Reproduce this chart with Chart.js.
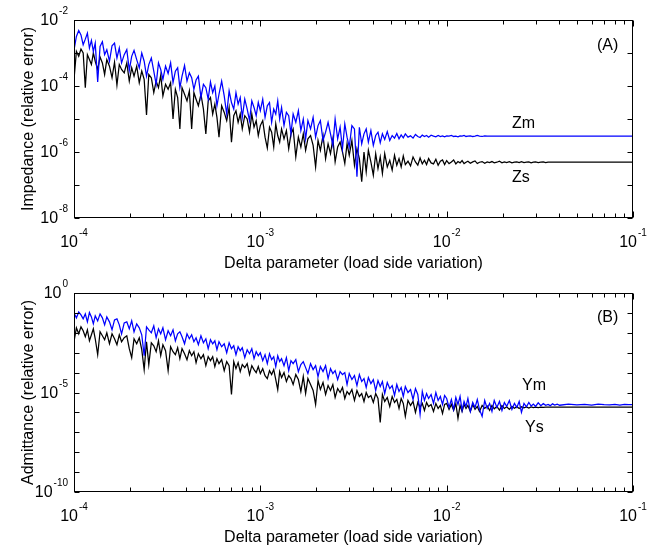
<!DOCTYPE html>
<html>
<head>
<meta charset="utf-8">
<script src="https://cdn.jsdelivr.net/npm/chart.js@4.4.1/dist/chart.umd.min.js"></script>
<style>
  html, body { margin: 0; padding: 0; background: #fff; }
  #wrap { position: relative; width: 664px; height: 551px; }
  .panel { position: absolute; left: 0; width: 664px; }
</style>
</head>
<body>
<div id="wrap">
  <div class="panel" style="top:0;height:276px"><canvas id="cTop" width="664" height="276"></canvas></div>
  <div class="panel" style="top:276px;height:275px"><canvas id="cBot" width="664" height="275"></canvas></div>
</div>
<script>
// delta sweep (shared by both panels)
const deltaGrid = [
  1.00e-4,1.03e-4,1.06e-4,1.09e-4,1.12e-4,1.15e-4,1.18e-4,1.21e-4,1.24e-4,1.27e-4,
  1.30e-4,1.34e-4,1.38e-4,1.42e-4,1.46e-4,1.50e-4,1.55e-4,1.60e-4,1.65e-4,1.70e-4,
  1.75e-4,1.80e-4,1.86e-4,1.92e-4,1.98e-4,2.04e-4,2.10e-4,2.17e-4,2.24e-4,2.31e-4,
  2.38e-4,2.45e-4,2.52e-4,2.60e-4,2.68e-4,2.76e-4,2.84e-4,2.92e-4,3.00e-4,3.10e-4,
  3.20e-4,3.30e-4,3.40e-4,3.50e-4,3.60e-4,3.70e-4,3.80e-4,3.92e-4,4.04e-4,4.16e-4,
  4.28e-4,4.40e-4,4.52e-4,4.65e-4,4.80e-4,4.95e-4,5.10e-4,5.25e-4,5.40e-4,5.55e-4,
  5.70e-4,5.85e-4,6.00e-4,6.20e-4,6.40e-4,6.60e-4,6.80e-4,7.00e-4,7.20e-4,7.40e-4,
  7.60e-4,7.80e-4,8.00e-4,8.25e-4,8.50e-4,8.75e-4,9.00e-4,9.25e-4,9.50e-4,9.75e-4,
  1.00e-3,1.03e-3,1.06e-3,1.09e-3,1.12e-3,1.15e-3,1.18e-3,1.21e-3,1.24e-3,1.27e-3,
  1.30e-3,1.34e-3,1.38e-3,1.42e-3,1.46e-3,1.50e-3,1.55e-3,1.60e-3,1.65e-3,1.70e-3,
  1.75e-3,1.80e-3,1.86e-3,1.92e-3,1.98e-3,2.04e-3,2.10e-3,2.17e-3,2.24e-3,2.31e-3,
  2.38e-3,2.45e-3,2.52e-3,2.60e-3,2.68e-3,2.76e-3,2.84e-3,2.92e-3,3.00e-3,3.10e-3,
  3.20e-3,3.30e-3,3.40e-3,3.50e-3,3.60e-3,3.70e-3,3.80e-3,3.92e-3,4.04e-3,4.16e-3,
  4.28e-3,4.40e-3,4.52e-3,4.65e-3,4.80e-3,4.95e-3,5.10e-3,5.25e-3,5.40e-3,5.55e-3,
  5.70e-3,5.85e-3,6.00e-3,6.20e-3,6.40e-3,6.60e-3,6.80e-3,7.00e-3,7.20e-3,7.40e-3,
  7.60e-3,7.80e-3,8.00e-3,8.25e-3,8.50e-3,8.75e-3,9.00e-3,9.25e-3,9.50e-3,9.75e-3,
  1.00e-2,1.03e-2,1.06e-2,1.09e-2,1.12e-2,1.15e-2,1.18e-2,1.21e-2,1.24e-2,1.27e-2,
  1.30e-2,1.34e-2,1.38e-2,1.42e-2,1.46e-2,1.50e-2,1.55e-2,1.60e-2,1.65e-2,1.70e-2,
  1.75e-2,1.80e-2,1.86e-2,1.92e-2,1.98e-2,2.04e-2,2.10e-2,2.17e-2,2.24e-2,2.31e-2,
  2.38e-2,2.45e-2,2.52e-2,2.60e-2,2.68e-2,2.76e-2,2.84e-2,2.92e-2,3.00e-2,3.10e-2,
  3.20e-2,3.30e-2,3.40e-2,3.50e-2,3.60e-2,3.70e-2,3.80e-2,3.92e-2,4.04e-2,
  4.5e-2,5.0e-2,5.5e-2,6.0e-2,6.5e-2,7.0e-2,7.5e-2,8.0e-2,8.5e-2,9.0e-2,9.5e-2,1.0e-1
];

// values, stored as log10(relative error)
const zmLog = [
  -2.91,-2.50,-2.32,-2.45,-2.75,-2.58,-2.40,-2.85,-2.62,-2.95,
  -2.70,-3.88,-2.80,-2.66,-3.05,-2.90,-3.25,-2.78,-2.70,-3.15,
  -2.85,-3.30,-3.05,-2.90,-3.52,-3.10,-2.92,-3.20,-3.45,-3.00,
  -3.25,-3.70,-3.35,-3.15,-3.55,-3.95,-3.30,-3.50,-3.80,-3.40,
  -3.62,-3.30,-3.90,-3.55,-3.45,-4.05,-3.70,-3.38,-3.85,-3.60,
  -3.75,-4.10,-3.82,-3.70,-4.35,-3.95,-4.05,-4.40,-3.88,-4.20,
  -4.00,-4.60,-4.25,-3.85,-4.30,-4.85,-4.15,-4.50,-4.70,-4.20,
  -4.55,-4.35,-4.95,-4.40,-4.70,-5.05,-4.45,-4.65,-4.90,-4.50,
  -4.75,-4.40,-4.95,-4.60,-4.50,-5.10,-4.70,-4.85,-4.45,-5.00,
  -4.65,-5.20,-4.80,-4.90,-5.45,-4.85,-5.10,-4.75,-5.35,-5.00,
  -5.60,-5.05,-5.30,-4.95,-5.55,-5.20,-5.05,-5.65,-5.40,-5.10,
  -5.45,-5.80,-5.00,-5.60,-5.25,-5.90,-5.15,-5.55,-5.85,-5.20,
  -5.30,-6.75,-5.25,-5.75,-5.45,-5.30,-5.70,-5.35,-5.80,-5.50,
  -5.40,-5.72,-5.45,-5.62,-5.38,-5.65,-5.50,-5.58,-5.44,-5.60,
  -5.48,-5.57,-5.45,-5.55,-5.51,-5.58,-5.47,-5.53,-5.56,-5.49,
  -5.53,-5.50,-5.55,-5.49,-5.52,-5.54,-5.50,-5.53,-5.51,-5.54,
  -5.51,-5.52,-5.50,-5.53,-5.52,-5.54,-5.51,-5.52,-5.50,-5.53,
  -5.52,-5.51,-5.53,-5.52,-5.50,-5.52,-5.53,-5.51,-5.52,-5.52,
  -5.52,-5.52,-5.52,-5.52,-5.52,-5.52,-5.52,-5.52,-5.52,-5.52,
  -5.52,-5.52,-5.52,-5.52,-5.52,-5.52,-5.52,-5.52,-5.52,-5.52,
  -5.52,-5.52,-5.52,-5.52,-5.52,-5.52,-5.52,-5.52,-5.52,
  -5.52,-5.52,-5.52,-5.52,-5.52,-5.52,-5.52,-5.52,-5.52,-5.52,-5.52,-5.52
];
const zsLog = [
  -3.80,-2.95,-3.10,-2.88,-3.00,-4.05,-3.05,-3.20,-3.35,-3.00,
  -3.25,-3.50,-3.12,-3.30,-3.65,-3.20,-3.40,-3.75,-3.28,-3.97,
  -3.35,-3.50,-3.60,-3.30,-3.85,-3.45,-3.70,-3.40,-3.90,-3.55,
  -3.80,-4.88,-3.65,-3.75,-4.20,-3.85,-4.05,-3.68,-4.30,-3.95,
  -4.10,-3.90,-5.00,-4.10,-4.35,-5.30,-4.05,-4.25,-4.45,-4.15,
  -5.30,-4.20,-4.40,-4.60,-4.25,-4.70,-5.45,-4.45,-4.35,-4.85,
  -4.55,-4.95,-5.55,-4.60,-4.80,-5.05,-4.65,-5.70,-4.90,-4.75,
  -5.10,-4.85,-5.30,-4.90,-5.00,-5.40,-4.85,-5.25,-5.05,-5.50,
  -5.20,-5.05,-5.55,-5.88,-5.25,-5.40,-5.85,-5.15,-5.50,-5.70,
  -5.30,-5.60,-5.35,-5.90,-5.45,-5.30,-6.15,-5.55,-5.85,-5.45,
  -5.95,-5.60,-5.50,-5.80,-6.45,-5.65,-5.95,-5.50,-6.20,-5.75,
  -6.05,-5.60,-6.30,-5.85,-5.70,-6.00,-6.35,-5.75,-6.10,-5.65,
  -6.40,-5.90,-6.20,-6.90,-6.00,-6.60,-5.95,-6.30,-6.70,-6.05,
  -6.50,-6.15,-6.65,-6.05,-6.45,-6.25,-6.55,-6.10,-6.40,-6.20,
  -6.45,-6.12,-6.38,-6.28,-6.42,-6.15,-6.30,-6.40,-6.18,-6.36,
  -6.25,-6.38,-6.20,-6.33,-6.36,-6.22,-6.40,-6.28,-6.24,-6.38,
  -6.26,-6.35,-6.30,-6.24,-6.36,-6.29,-6.33,-6.26,-6.35,-6.31,
  -6.28,-6.34,-6.30,-6.27,-6.35,-6.31,-6.29,-6.34,-6.30,-6.32,
  -6.29,-6.33,-6.31,-6.28,-6.33,-6.30,-6.32,-6.29,-6.33,-6.31,
  -6.30,-6.32,-6.29,-6.32,-6.31,-6.30,-6.33,-6.31,-6.30,-6.32,
  -6.31,-6.30,-6.32,-6.31,-6.31,-6.31,-6.31,-6.31,-6.31,
  -6.31,-6.31,-6.31,-6.31,-6.31,-6.31,-6.31,-6.31,-6.31,-6.31,-6.31,-6.31
];
const ymLog = [
  -1.00,-1.25,-0.95,-1.10,-1.30,-1.05,-1.45,-0.98,-1.20,-1.55,
  -1.15,-1.40,-1.05,-1.25,-1.60,-1.20,-1.45,-1.85,-1.35,-1.30,
  -1.60,-2.05,-1.50,-1.45,-1.80,-1.40,-1.95,-1.55,-1.75,-2.10,
  -3.15,-1.70,-1.85,-2.00,-1.65,-2.25,-1.80,-2.05,-1.75,-2.35,
  -1.90,-2.15,-1.85,-2.40,-2.05,-1.95,-2.20,-2.55,-2.05,-2.30,
  -2.10,-2.45,-2.25,-2.60,-2.15,-2.50,-2.30,-2.80,-2.35,-2.55,
  -2.40,-2.85,-2.45,-2.70,-2.55,-3.00,-2.50,-2.80,-2.65,-3.10,
  -2.70,-2.90,-2.75,-3.25,-2.85,-3.05,-2.80,-3.30,-2.95,-3.15,
  -3.00,-3.40,-3.10,-3.55,-3.05,-3.35,-3.20,-3.70,-3.15,-3.45,
  -3.30,-3.65,-3.25,-3.90,-3.40,-3.55,-3.35,-3.95,-3.60,-3.45,
  -3.75,-4.05,-3.55,-3.85,-3.65,-4.20,-3.70,-3.95,-3.65,-4.30,
  -3.80,-4.05,-3.90,-4.35,-3.95,-4.10,-4.00,-4.60,-4.05,-4.35,
  -4.15,-4.65,-4.10,-4.45,-4.30,-4.75,-4.25,-4.55,-4.35,-4.90,
  -4.40,-4.70,-4.45,-5.05,-4.50,-4.80,-4.65,-5.15,-4.60,-4.95,
  -4.75,-5.20,-4.70,-5.00,-4.85,-5.35,-4.80,-5.10,-6.10,-4.95,
  -5.40,-5.05,-5.30,-5.10,-5.55,-5.00,-5.40,-5.20,-5.60,-5.15,
  -5.30,-5.75,-5.35,-5.85,-5.25,-5.60,-5.20,-5.90,-5.45,-5.70,
  -5.30,-5.95,-5.50,-5.75,-5.35,-5.85,-6.20,-5.40,-5.80,-5.55,
  -5.95,-5.40,-5.75,-5.45,-5.90,-5.50,-5.70,-5.40,-5.85,-5.55,
  -5.75,-5.45,-6.00,-5.55,-5.72,-5.50,-5.68,-5.58,-5.70,-5.52,
  -5.66,-5.56,-5.64,-5.60,-5.66,-5.57,-5.63,-5.59,-5.64,
  -5.59,-5.62,-5.60,-5.63,-5.59,-5.61,-5.62,-5.60,-5.63,-5.60,-5.61,-5.61
];
const ysLog = [
  -2.45,-1.75,-2.05,-1.70,-1.90,-2.20,-1.85,-2.40,-2.10,-1.80,
  -2.30,-3.10,-1.95,-2.15,-2.35,-2.00,-2.55,-2.05,-2.30,-2.60,
  -2.10,-2.45,-2.25,-2.15,-2.80,-3.25,-2.30,-2.55,-2.25,-2.85,
  -3.85,-2.45,-3.60,-2.50,-2.65,-2.95,-2.40,-3.15,-2.60,-2.90,
  -3.90,-2.70,-2.95,-3.10,-2.75,-3.30,-2.80,-3.05,-3.35,-2.90,
  -3.15,-2.95,-3.50,-3.05,-3.30,-3.10,-3.65,-3.20,-3.40,-3.20,
  -3.70,-3.30,-3.55,-3.35,-3.90,-3.45,-3.65,-5.10,-3.45,-3.80,
  -3.50,-3.95,-3.60,-3.75,-3.55,-4.10,-3.65,-3.85,-4.00,-3.70,
  -4.05,-3.80,-4.15,-4.30,-3.90,-4.10,-3.85,-4.35,-4.85,-3.95,
  -4.25,-4.00,-4.45,-4.15,-4.30,-4.60,-4.10,-4.35,-4.95,-4.20,
  -5.05,-4.30,-4.60,-4.90,-5.60,-4.40,-4.85,-4.50,-5.10,-4.65,
  -4.90,-4.60,-5.25,-4.80,-5.00,-4.75,-5.30,-4.95,-5.10,-4.85,
  -5.40,-4.90,-5.20,-5.05,-5.45,-5.00,-5.25,-5.15,-5.50,-5.05,
  -5.30,-6.50,-5.10,-5.45,-5.25,-5.70,-5.20,-5.50,-5.35,-5.80,
  -5.30,-5.55,-6.20,-5.40,-5.65,-5.45,-6.00,-5.50,-5.75,-5.55,
  -5.90,-5.50,-5.70,-5.60,-5.95,-5.55,-5.80,-5.65,-6.05,-5.60,
  -5.55,-5.85,-5.60,-5.90,-5.55,-6.30,-5.65,-5.95,-5.60,-5.80,
  -5.65,-5.95,-5.60,-5.85,-5.70,-5.95,-5.65,-5.80,-5.68,-5.90,
  -5.65,-5.82,-5.70,-5.88,-5.66,-5.80,-5.72,-5.85,-5.70,-5.79,
  -5.71,-5.80,-5.72,-5.77,-5.73,-5.78,-5.72,-5.76,-5.74,-5.76,
  -5.73,-5.75,-5.74,-5.74,-5.74,-5.74,-5.74,-5.74,-5.74,
  -5.74,-5.74,-5.74,-5.74,-5.74,-5.74,-5.74,-5.74,-5.74,-5.74,-5.74,-5.74
];

// axis ticks and labels
const xDecadeTicks = [1e-4, 1e-3, 1e-2, 1e-1];
const xTickExps = ['-4', '-3', '-2', '-1'];
const xMinorMult = [2, 3, 4, 5, 6, 7, 8, 9];
const topYTicks = [1e-8, 1e-7, 1e-6, 1e-5, 1e-4, 1e-3, 1e-2];
const topYLabels = [[1e-2, '-2'], [1e-4, '-4'], [1e-6, '-6'], [1e-8, '-8']];
const botYTicks = [1e-10, 1e-9, 1e-8, 1e-7, 1e-6, 1e-5, 1e-4, 1e-3, 1e-2, 1e-1, 1];
const botYLabels = [[1, '0'], [1e-5, '-5'], [1e-10, '-10']];

const FONT = '"Liberation Sans", Arial, Helvetica, sans-serif';
const BLUE = '#0000ff';
const BLACK = '#000000';

const pts = (logs) => deltaGrid.map((x, i) => ({ x, y: Math.pow(10, logs[i]) }));

// "10" with a raised exponent
function powText(ctx, exp, x, y, align) {
  ctx.font = '16px ' + FONT;
  const wb = ctx.measureText('10').width;
  ctx.font = '10px ' + FONT;
  const we = ctx.measureText(exp).width;
  const x0 = align === 'right' ? x - wb - we - 1 : x - (wb + we + 1) / 2;
  ctx.textAlign = 'left';
  ctx.textBaseline = 'alphabetic';
  ctx.font = '16px ' + FONT;
  ctx.fillText('10', x0, y);
  ctx.font = '10px ' + FONT;
  ctx.fillText(exp, x0 + wb + 1, y - 11);
}

const framePlugin = {
  id: 'frame',
  afterDraw(chart, args, o) {
    const { ctx, chartArea: a, scales: { x, y } } = chart;
    const L = Math.round(a.left) + 0.5, R = Math.round(a.right) - 0.5;
    const T = Math.round(a.top) + 0.5, B = Math.round(a.bottom) - 0.5;
    ctx.save();
    ctx.strokeStyle = '#000';
    ctx.lineWidth = 1;
    ctx.strokeRect(L, T, R - L, B - T);
    ctx.beginPath();
    xDecadeTicks.forEach((d) => {
      const px = Math.round(x.getPixelForValue(d)) + 0.5;
      ctx.moveTo(px, B); ctx.lineTo(px, B - 6);
      ctx.moveTo(px, T); ctx.lineTo(px, T + 6);
      if (d < 1e-1) xMinorMult.forEach((m) => {
        const mx = Math.round(x.getPixelForValue(d * m)) + 0.5;
        ctx.moveTo(mx, B); ctx.lineTo(mx, B - 4);
        ctx.moveTo(mx, T); ctx.lineTo(mx, T + 4);
      });
    });
    o.yTicks.forEach((v) => {
      const py = Math.round(y.getPixelForValue(v)) + 0.5;
      ctx.moveTo(L, py); ctx.lineTo(L + 5, py);
      ctx.moveTo(R, py); ctx.lineTo(R - 5, py);
    });
    ctx.stroke();

    ctx.fillStyle = '#000';
    xDecadeTicks.forEach((d, i) => powText(ctx, xTickExps[i], x.getPixelForValue(d), a.bottom + 29, 'center'));
    o.yLabels.forEach(([v, e]) => powText(ctx, e, 68, y.getPixelForValue(v) + 5, 'right'));

    ctx.font = '16px ' + FONT;
    ctx.textAlign = 'center';
    ctx.fillText('Delta parameter (load side variation)', (a.left + a.right) / 2, a.bottom + 50);
    ctx.save();
    ctx.translate(33, (a.top + a.bottom) / 2);
    ctx.rotate(-Math.PI / 2);
    ctx.fillText(o.yTitle, 0, 0);
    ctx.restore();

    ctx.textAlign = 'left';
    o.notes.forEach(([t, nx, ny]) => ctx.fillText(t, nx, ny));
    ctx.restore();
  }
};

function makePanel(id, cfg) {
  return new Chart(document.getElementById(id), {
    type: 'line',
    data: {
      datasets: [
        { label: cfg.names[0], data: pts(cfg.blue), borderColor: BLUE, borderWidth: 1.25, pointRadius: 0, tension: 0 },
        { label: cfg.names[1], data: pts(cfg.black), borderColor: BLACK, borderWidth: 1.25, pointRadius: 0, tension: 0 }
      ]
    },
    options: {
      responsive: false,
      animation: false,
      layout: { padding: { left: 0, right: 31, top: cfg.top, bottom: 0 } },
      plugins: {
        legend: { display: false },
        tooltip: { enabled: false },
        frame: { yTicks: cfg.yTicks, yLabels: cfg.yLabels, yTitle: cfg.yTitle, notes: cfg.notes }
      },
      scales: {
        x: {
          type: 'logarithmic', min: 1e-4, max: 1e-1,
          grid: { display: false }, border: { display: false }, ticks: { display: false },
          afterFit: (s) => { s.height = cfg.xh; }
        },
        y: {
          type: 'logarithmic', min: cfg.yMin, max: cfg.yMax,
          grid: { display: false }, border: { display: false }, ticks: { display: false },
          afterFit: (s) => { s.width = 74; }
        }
      }
    },
    plugins: [framePlugin]
  });
}

makePanel('cTop', {
  names: ['Zm', 'Zs'], blue: zmLog, black: zsLog,
  yMin: 1e-8, yMax: 1e-2, top: 20, xh: 58,
  yTicks: topYTicks, yLabels: topYLabels, yTitle: 'Impedance (relative error)',
  notes: [['Zm', 512, 128], ['Zs', 512, 182], ['(A)', 597, 50]]
});
makePanel('cBot', {
  names: ['Ym', 'Ys'], blue: ymLog, black: ysLog,
  yMin: 1e-10, yMax: 1, top: 17, xh: 59,
  yTicks: botYTicks, yLabels: botYLabels, yTitle: 'Admittance (relative error)',
  notes: [['Ym', 522, 114], ['Ys', 525, 156], ['(B)', 597, 46]]
});
</script>
</body>
</html>
